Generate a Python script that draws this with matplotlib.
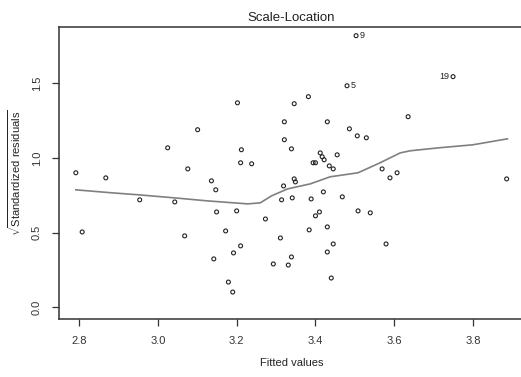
import numpy as np
import matplotlib
matplotlib.use('Agg')
import matplotlib.pyplot as plt

plt.rcParams['font.family'] = ['Liberation Sans', 'DejaVu Sans']
plt.rcParams['mathtext.fontset'] = 'custom'
plt.rcParams['mathtext.sf'] = 'Liberation Sans'

# fitted values / sqrt(|standardized residuals|)
fitted = [2.792, 2.868, 3.025, 3.101, 3.076, 3.136, 3.202, 3.212, 3.210, 3.238,
          3.321, 3.321, 3.339, 3.346, 3.382, 3.430, 3.486, 3.506, 3.529, 3.635,
          3.412, 3.417, 3.422, 3.455, 3.394, 3.400, 3.435, 3.445, 3.569, 3.607,
          3.589, 3.346, 3.349, 3.319, 3.885, 2.954, 3.043, 2.808, 3.147, 3.341,
          3.314, 3.149, 3.200, 3.273, 3.068, 3.172, 3.210, 3.192, 3.142, 3.311,
          3.339, 3.293, 3.331, 3.179, 3.190, 3.420, 3.389, 3.468, 3.410, 3.400,
          3.508, 3.539, 3.384, 3.430, 3.445, 3.430, 3.579, 3.440,
          3.503, 3.480, 3.749]
sqrt_res = [0.900, 0.866, 1.067, 1.188, 0.926, 0.846, 1.368, 1.054, 0.967, 0.960,
            1.241, 1.121, 1.060, 1.362, 1.409, 1.241, 1.194, 1.147, 1.134, 1.275,
            1.033, 1.007, 0.987, 1.020, 0.967, 0.967, 0.946, 0.926, 0.926, 0.900,
            0.866, 0.859, 0.839, 0.812, 0.859, 0.719, 0.705, 0.504, 0.786, 0.732,
            0.719, 0.638, 0.645, 0.591, 0.478, 0.511, 0.411, 0.364, 0.324, 0.464,
            0.337, 0.290, 0.283, 0.169, 0.102, 0.772, 0.725, 0.739, 0.638, 0.612,
            0.645, 0.632, 0.518, 0.538, 0.424, 0.370, 0.424, 0.196,
            1.817, 1.482, 1.543]
ids = ['', ] * 68 + ['9', '5', '19']

# smoother
smooth_x = [2.792, 2.883, 2.954, 3.043, 3.126, 3.192, 3.228, 3.260, 3.288, 3.329,
            3.387, 3.437, 3.508, 3.564, 3.615, 3.640, 3.713, 3.799, 3.887]
smooth_y = [0.786, 0.766, 0.752, 0.732, 0.712, 0.699, 0.692, 0.699, 0.745, 0.792,
            0.826, 0.873, 0.900, 0.967, 1.033, 1.047, 1.067, 1.087, 1.127]

xticks = [2.8, 3.0, 3.2, 3.4, 3.6, 3.8]
yticks = [0.0, 0.5, 1.0, 1.5]

fig = plt.figure(figsize=(5.21, 3.77), dpi=100)
ax = fig.add_axes([58.5/521, (377-319)/377, (524-58.5)/521, (319-26.7)/377])

ax.scatter(fitted, sqrt_res, s=8, facecolors='none', edgecolors='#222222', linewidths=0.8, zorder=3)
ax.plot(smooth_x, smooth_y, color='#808080', lw=1.2, zorder=2)

for xv, yv, lab in zip(fitted, sqrt_res, ids):
    if not lab:
        continue
    if xv < 3.6:
        ax.annotate(lab, (xv, yv), xytext=(2.5, 0), textcoords='offset points',
                    ha='left', va='center', fontsize=6.5, color='#222222')
    else:
        ax.annotate(lab, (xv, yv), xytext=(-2.5, 0), textcoords='offset points',
                    ha='right', va='center', fontsize=6.5, color='#222222')

ax.set_xlim(2.748, 3.929)
ax.set_ylim(-0.078, 1.877)
ax.set_xticks(xticks)
ax.set_xticklabels([f'{v:.1f}' for v in xticks])
ax.set_yticks(yticks)
ax.set_yticklabels([f'{v:.1f}' for v in yticks], rotation=90, va='center')
ax.tick_params(direction='out', length=5, width=0.9, colors='#333333',
               labelsize=8, labelcolor='#333333')
ax.tick_params(axis='x', pad=7)
ax.tick_params(axis='y', pad=7)
for sp in ax.spines.values():
    sp.set_color('#333333')
    sp.set_linewidth(1.1)

ax.set_title('Scale-Location', fontsize=9.5, color='#222222', pad=4)
ax.set_xlabel('Fitted values', fontsize=8, color='#222222', labelpad=9)
ax.set_ylabel(r'$\sqrt{\mathsf{Standardized\ residuals}}$', fontsize=8, color='#222222', labelpad=6)

fig.savefig('out.png', dpi=100)
